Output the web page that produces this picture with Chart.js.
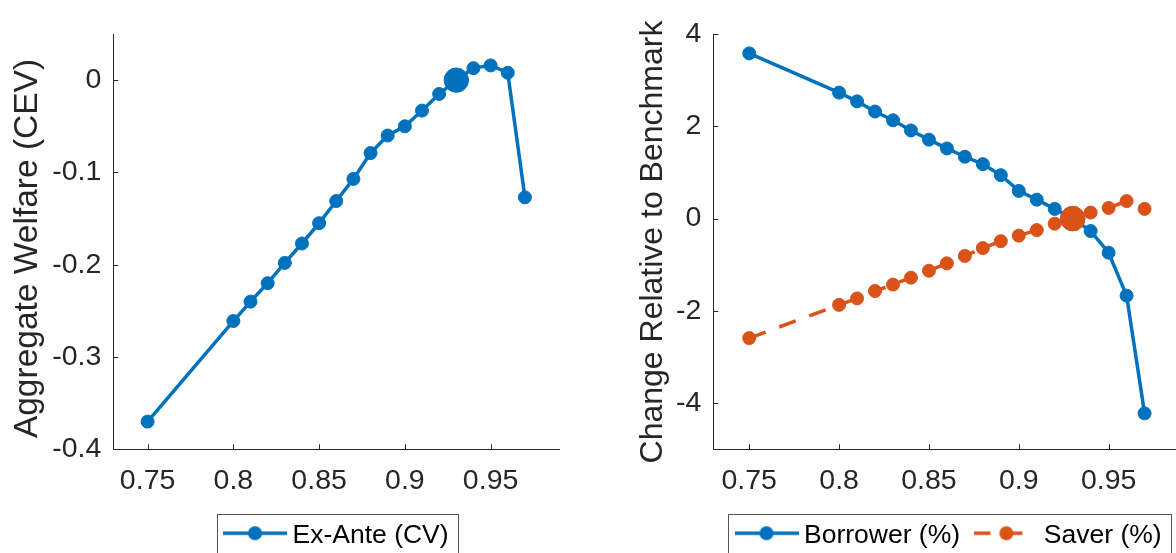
<!DOCTYPE html>
<html>
<head>
<meta charset="utf-8">
<script src="https://cdn.jsdelivr.net/npm/chart.js@4.4.0/dist/chart.umd.min.js"></script>
<style>
    html, body { margin: 0; padding: 0; background: #fff; width: 1176px; height: 553px; overflow: hidden; }
    canvas { position: absolute; top: 0; }
    #welfareChart { left: 0; }
    #changeChart { left: 588px; }
</style>
</head>
<body>
<canvas id="welfareChart" width="590" height="559"></canvas>
<canvas id="changeChart" width="600" height="559"></canvas>
<script>
// values
const ratios   = [0.75, 0.80, 0.81, 0.82, 0.83, 0.84, 0.85, 0.86, 0.87, 0.88, 0.89, 0.90, 0.91, 0.92, 0.93, 0.94, 0.95, 0.96, 0.97];
const exAnte   = [-0.370, -0.261, -0.240, -0.220, -0.198, -0.177, -0.155, -0.131, -0.107, -0.079, -0.060, -0.050, -0.033, -0.015, 0, 0.013, 0.016, 0.008, -0.127];
const borrower = [3.58, 2.73, 2.54, 2.32, 2.13, 1.91, 1.71, 1.52, 1.34, 1.18, 0.94, 0.60, 0.41, 0.21, 0, -0.27, -0.74, -1.67, -4.22];
const saver    = [-2.59, -1.87, -1.73, -1.57, -1.43, -1.28, -1.13, -0.97, -0.81, -0.64, -0.49, -0.37, -0.25, -0.11, 0, 0.13, 0.23, 0.38, 0.21];
const benchmark = 0.93;

const xTicks = [0.75, 0.8, 0.85, 0.9, 0.95];
const welfareTicks = [0, -0.1, -0.2, -0.3, -0.4];
const changeTicks = [4, 2, 0, -2, -4];

const blue = '#0072BD';
const orange = '#D95319';
const axisColor = '#262626';
const fontFamily = "'Liberation Sans', Arial, Helvetica, sans-serif";
const legendPad = 22;

Chart.defaults.font.family = fontFamily;

const fmt = v => String(parseFloat(Number(v).toFixed(2)));

// small line + marker picture used as legend symbol
function legendIcon(color, dashed) {
    const c = document.createElement('canvas');
    c.width = 64;
    c.height = 22;
    const g = c.getContext('2d');
    g.strokeStyle = color;
    g.fillStyle = color;
    g.lineWidth = 3.5;
    const y = 9;
    g.beginPath();
    if (dashed) {
        g.moveTo(0, y); g.lineTo(16, y);
        g.moveTo(32, y); g.lineTo(48, y);
    } else {
        g.moveTo(0, y); g.lineTo(64, y);
    }
    g.stroke();
    g.beginPath();
    g.arc(32, y, 7, 0, Math.PI * 2);
    g.fill();
    return c;
}

function series(label, values, color, extra) {
    return Object.assign({
        label: label,
        data: ratios.map((r, i) => ({ x: r, y: values[i] })),
        borderColor: color,
        backgroundColor: color,
        borderWidth: 3.5,
        pointBackgroundColor: color,
        pointBorderColor: color,
        pointBorderWidth: 1,
        pointRadius: c => (c.raw && c.raw.x === benchmark ? 12.2 : 6.5),
        pointHoverRadius: c => (c.raw && c.raw.x === benchmark ? 12.2 : 6.5),
        tension: 0,
        clip: false
    }, extra || {});
}

// inward tick marks, rotated y title and the boxed legend
const matlabAxes = {
    id: 'matlabAxes',
    afterLayout(chart, args, opts) {
        const lg = chart.legend;
        lg.left = opts.legendX - legendPad;
        lg.right = lg.left + lg.width;
        lg.top = 500;
        lg.bottom = lg.top + lg.height;
    },
    afterDraw(chart, args, opts) {
        const ctx = chart.ctx;
        const area = chart.chartArea;
        const xs = chart.scales.x;
        const ys = chart.scales.y;
        ctx.save();
        ctx.strokeStyle = axisColor;
        ctx.lineWidth = 1;
        ctx.beginPath();
        xs.ticks.forEach(t => {
            const px = Math.round(xs.getPixelForValue(t.value)) + 0.5;
            ctx.moveTo(px, area.bottom);
            ctx.lineTo(px, area.bottom - 5);
        });
        ys.ticks.forEach(t => {
            const py = Math.round(ys.getPixelForValue(t.value)) + 0.5;
            ctx.moveTo(area.left, py);
            ctx.lineTo(area.left + 5, py);
        });
        ctx.stroke();

        ctx.save();
        ctx.font = opts.titleSize + 'px ' + fontFamily;
        ctx.fillStyle = axisColor;
        ctx.textAlign = 'center';
        ctx.textBaseline = 'middle';
        ctx.translate(opts.titleX, opts.titleY);
        ctx.rotate(-Math.PI / 2);
        ctx.fillText(opts.title, 0, 0);
        ctx.restore();

        const hb = chart.legend.legendHitBoxes;
        if (hb && hb.length) {
            const first = hb[0];
            const last = hb[hb.length - 1];
            const x0 = Math.round(first.left - 14) + 0.5;
            const x1 = Math.round(last.left + last.width + 9) + 0.5;
            ctx.strokeStyle = '#555';
            ctx.strokeRect(x0, 514.5, x1 - x0, 50);
        }
        ctx.restore();
    }
};

function makeOptions(yMin, yMax, yTicks, yWidth, padRight, axisOpts) {
    return {
        responsive: false,
        animation: false,
        layout: { padding: { left: 0, right: padRight, top: 34, bottom: 0 } },
        scales: {
            x: {
                type: 'linear',
                min: 0.73,
                max: 0.99,
                afterBuildTicks: s => { s.ticks = xTicks.map(v => ({ value: v })); },
                afterFit: s => { s.height = 51.2; },
                grid: { drawOnChartArea: false, drawTicks: false },
                border: { color: axisColor, width: 1 },
                ticks: { padding: 14.5, color: axisColor, font: { size: 28.5 }, maxRotation: 0, autoSkip: false, callback: v => fmt(v) }
            },
            y: {
                type: 'linear',
                min: yMin,
                max: yMax,
                afterBuildTicks: s => { s.ticks = yTicks.map(v => ({ value: v })); },
                afterFit: s => { s.width = yWidth; },
                grid: { drawOnChartArea: false, drawTicks: false },
                border: { color: axisColor, width: 1 },
                ticks: { padding: 12, color: axisColor, font: { size: 28.5 }, autoSkip: false, callback: v => fmt(v) }
            }
        },
        plugins: {
            tooltip: { enabled: false },
            matlabAxes: axisOpts,
            legend: {
                position: 'bottom',
                align: 'start',
                fullSize: false,
                labels: {
                    usePointStyle: true,
                    pointStyleWidth: 48.5,
                    padding: legendPad,
                    color: '#000',
                    font: { size: 26.5 },
                    generateLabels: chart => chart.data.datasets.map((ds, i) => ({
                        text: ds.label,
                        pointStyle: ds.legendIcon,
                        fillStyle: ds.borderColor,
                        strokeStyle: ds.borderColor,
                        lineWidth: 0,
                        hidden: false,
                        datasetIndex: i
                    }))
                }
            }
        }
    };
}

new Chart(document.getElementById('welfareChart'), {
    type: 'line',
    data: {
        datasets: [
            series('Ex-Ante (CV)', exAnte, blue, { legendIcon: legendIcon(blue, false) })
        ]
    },
    options: makeOptions(-0.4, 0.05, welfareTicks, 113.3, 30.8,
        { title: 'Aggregate Welfare (CEV)', titleSize: 33.5, titleX: 28, titleY: 248.5, legendX: 230.75 }),
    plugins: [matlabAxes]
});

new Chart(document.getElementById('changeChart'), {
    type: 'line',
    data: {
        datasets: [
            series('Borrower (%)', borrower, blue, { order: 1, legendIcon: legendIcon(blue, false) }),
            series('Saver (%)', saver, orange, { order: 0, borderDash: [17.5, 14.5], legendIcon: legendIcon(orange, true) })
        ]
    },
    options: makeOptions(-5, 4, changeTicks, 125.3, 4.1,
        { title: 'Change Relative to Benchmark', titleSize: 32, titleX: 65, titleY: 242, legendX: 742.25 - 588 }),
    plugins: [matlabAxes]
});
</script>
</body>
</html>
